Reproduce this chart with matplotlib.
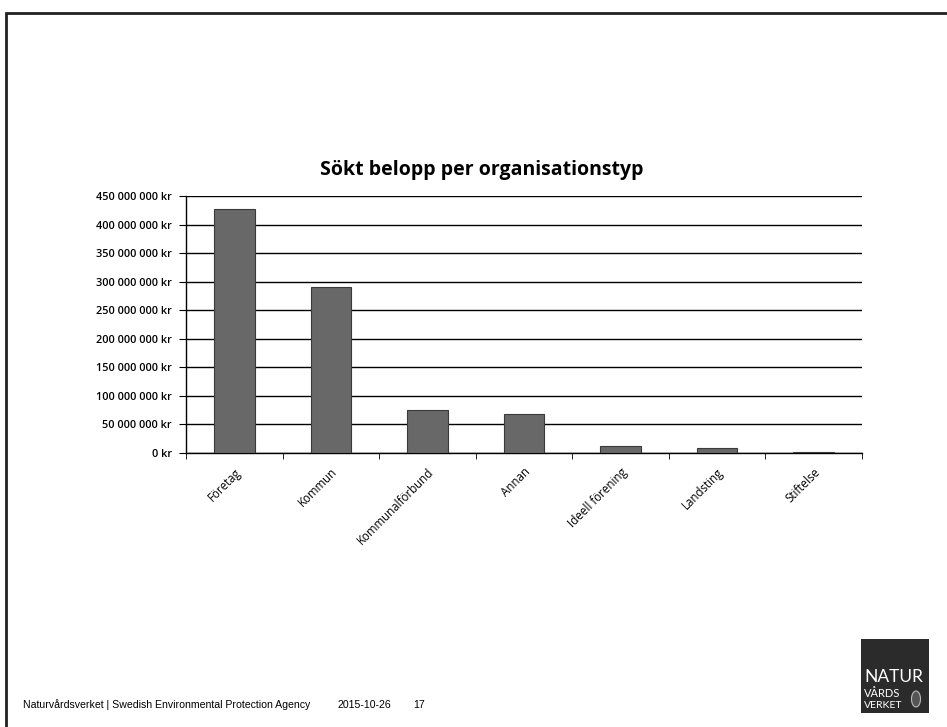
import matplotlib.pyplot as plt
import numpy as np
from matplotlib.patches import Rectangle, Ellipse

kategorier = ['Företag', 'Kommun', 'Kommunalförbund', 'Annan',
              'Ideell förening', 'Landsting', 'Stiftelse']
belopp = [428e6, 291e6, 76e6, 69e6, 13e6, 8e6, 1e6]
yticks = np.arange(0, 450e6 + 1, 50e6)

plt.rcParams['font.family'] = ['Open Sans', 'DejaVu Sans']

fig = plt.figure(figsize=(9.47, 7.27), dpi=100)

# ram runt bilden
fig.add_artist(Rectangle((6 / 947, -0.01), 1.0, 1 - 13 / 727 + 0.01,
                         transform=fig.transFigure, fill=False,
                         edgecolor='#222222', linewidth=2))

ax = fig.add_axes([186 / 947, 274 / 727, 676 / 947, 257 / 727])
x = np.arange(len(kategorier))
ax.bar(x, belopp, width=0.42, color='#686868', edgecolor='#3a3a3a',
       linewidth=0.8, zorder=3)

ax.set_xlim(-0.5, len(kategorier) - 0.5)
ax.set_ylim(0, 450e6)
ax.set_yticks(yticks)
ax.set_yticklabels([f'{int(v):,} kr'.replace(',', ' ') for v in yticks],
                   fontsize=7.8, fontweight='semibold')
ax.yaxis.grid(True, color='black', linewidth=1)
ax.set_axisbelow(True)

ax.set_xticks(x)
ax.set_xticklabels(kategorier, rotation=45, ha='right', rotation_mode='anchor',
                   fontsize=8.3)
ax.tick_params(axis='x', length=0, pad=9)
ax.set_xticks(np.arange(-0.5, len(kategorier)), minor=True)
ax.tick_params(axis='x', which='minor', length=4, direction='out')
ax.tick_params(axis='y', length=5, direction='out', pad=5)

for s in ['top', 'right']:
    ax.spines[s].set_visible(False)
ax.spines['left'].set_linewidth(1)
ax.spines['bottom'].set_linewidth(1)

fig.text(482 / 947, 1 - 170 / 727, 'Sökt belopp per organisationstyp',
         ha='center', va='center', fontsize=14, fontweight='bold')

fot = ['Liberation Sans', 'DejaVu Sans']
fig.text(23 / 947, 1 - 705 / 727,
         'Naturvårdsverket | Swedish Environmental Protection Agency',
         ha='left', va='center', fontsize=7.6, family=fot)
fig.text(337 / 947, 1 - 705 / 727, '2015-10-26', ha='left', va='center',
         fontsize=7.6, family=fot)
fig.text(413 / 947, 1 - 705 / 727, '17', ha='left', va='center',
         fontsize=7.6, family=fot)

# logotyp
fig.add_artist(Rectangle((861 / 947, 1 - 713 / 727), 68 / 947, 74 / 727,
                         transform=fig.transFigure, facecolor='#2b2b2b',
                         edgecolor='none'))
for rad, y, fs in zip(['NATUR', 'VÅRDS', 'VERKET'],
                      [682, 697, 708], [12.5, 8, 7.5]):
    fig.text(864 / 947, 1 - y / 727, rad, ha='left', va='baseline',
             color='white', fontsize=fs, family='Lato')
fig.add_artist(Ellipse((916 / 947, 1 - 699 / 727), 9 / 947, 16 / 727,
                       transform=fig.transFigure, facecolor='#555555',
                       edgecolor='#bbbbbb', linewidth=0.8))

fig.savefig('out.png', dpi=100, facecolor='white')
